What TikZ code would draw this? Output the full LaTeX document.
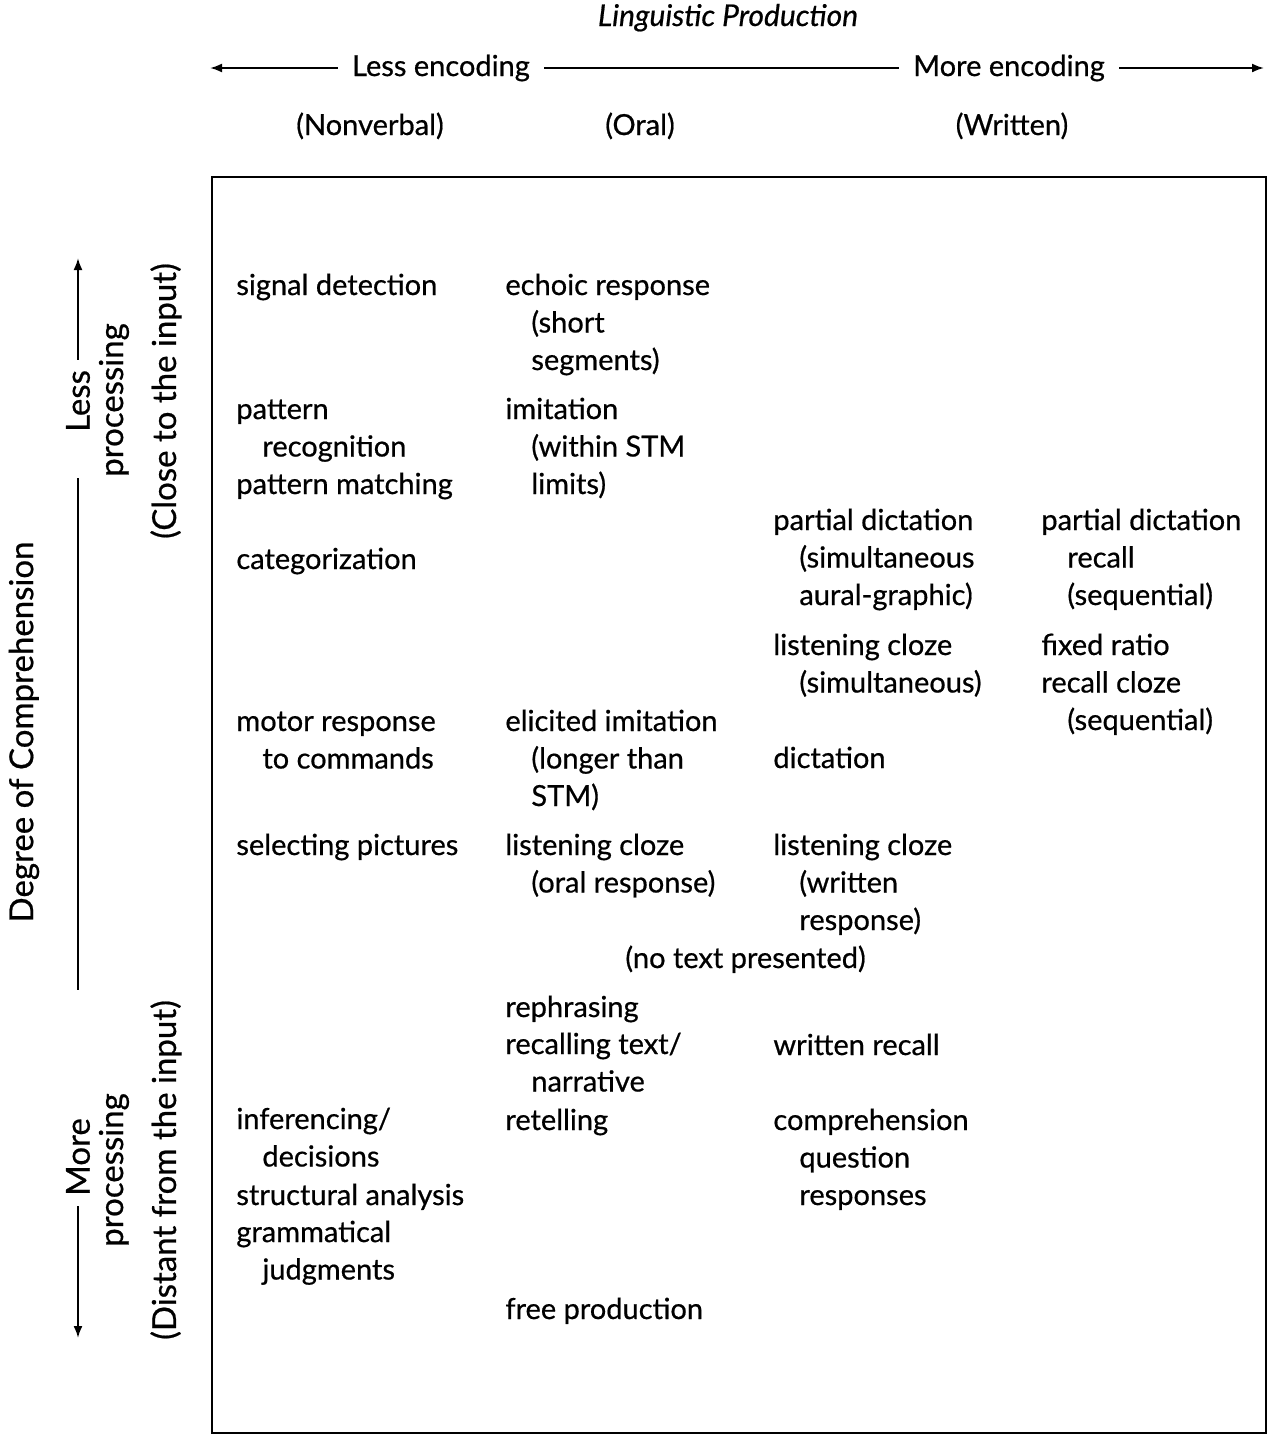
\documentclass[tikz,border=0pt]{standalone}
\usepackage{fontspec}
\setmainfont{Lato}[UprightFeatures={FakeBold=0.6}, ItalicFeatures={FakeBold=0.6}]
\usetikzlibrary{arrows.meta}
\newcommand{\indt}{\hspace*{13pt}}

\begin{document}
\begin{tikzpicture}[x=0.5pt, y=-0.5pt,
		font=\fontsize{14.5}{18.75}\selectfont,
		entry/.style={anchor=base west, align=left, inner sep=0pt},
		head/.style={anchor=base},
		side/.style={rotate=90, inner sep=5pt, font=\fontsize{16.5}{18.75}\selectfont},
		axis/.style={line width=1pt},
		tip/.style={-{Latex[length=6pt,width=4.5pt]}}
		]
	\useasboundingbox (0,0) rectangle (1274,1435);
	\draw[line width=1.4pt] (212,177) rectangle (1266,1433);

	% linguistic production axis
	\node[head, font=\fontsize{15}{18}\selectfont\itshape] (title) at (728,26) {Linguistic Production};
	\coordinate (lend) at (210,68);
	\coordinate (rend) at (1264,68);
	\node[inner sep=7pt] (lessenc) at (441,68) {Less encoding};
	\node[inner sep=7pt] (moreenc) at (1009,68) {More encoding};
	\draw[axis, tip] (lessenc.west) -- (lend);
	\draw[axis] (lessenc.east) -- (moreenc.west);
	\draw[axis, tip] (moreenc.east) -- (rend);
	\node[head] (nonverbal) at (370,135) {(Nonverbal)};
	\node[head] (oral) at (640,135) {(Oral)};
	\node[head] (written) at (1012,135) {(Written)};

	% degree of comprehension axis
	\node[side] (degree) at (24,732) {Degree of Comprehension};
	\node[side] (lessproc) at (78,401) {Less};
	\node[side] (procup) at (114,400) {processing};
	\node[side] (close) at (166,401) {(Close to the input)};
	\node[side] (moreproc) at (78,1157) {More};
	\node[side] (procdown) at (114,1170) {processing};
	\node[side] (distant) at (166,1170) {(Distant from the input)};
	\coordinate (uend) at (78,258);
	\coordinate (dend) at (78,1338);
	\coordinate (axtop) at (78,478);
	\coordinate (axbot) at (78,990);
	\draw[axis, tip] (lessproc.east) -- (uend);
	\draw[axis] (axtop) -- (axbot);
	\draw[axis, tip] (moreproc.west) -- (dend);

	% entries sit on the baseline of their last line
	% nonverbal
	\node[entry] (signal) at (236,295) {signal detection};
	\node[entry] (pattrec) at (236,456.5) {pattern\\\indt recognition};
	\node[entry] (pattmat) at (236,494) {pattern matching};
	\node[entry] (categ) at (236,569) {categorization};
	\node[entry] (motor) at (236,768.5) {motor response\\\indt to commands};
	\node[entry] (select) at (236,855) {selecting pictures};
	\node[entry] (infer) at (236,1166.5) {inferencing/\\\indt decisions};
	\node[entry] (struct) at (236,1205) {structural analysis};
	\node[entry] (gramm) at (236,1279.5) {grammatical\\\indt judgments};

	% oral
	\node[entry] (echoic) at (505,370) {echoic response\\\indt (short\\\indt segments)};
	\node[entry] (imit) at (505,494) {imitation\\\indt (within STM\\\indt limits)};
	\node[entry] (elicit) at (505,806) {elicited imitation\\\indt (longer than\\\indt STM)};
	\node[entry] (clozeoral) at (505,892.5) {listening cloze\\\indt (oral response)};
	\node[entry] (notext) at (625,968) {(no text presented)};
	\node[entry] (rephr) at (505,1017) {rephrasing};
	\node[entry] (recall) at (505,1091.5) {recalling text/\\\indt narrative};
	\node[entry] (retell) at (505,1130) {retelling};
	\node[entry] (free) at (505,1319) {free production};

	% written
	\node[entry] (pdict) at (773,605) {partial dictation\\\indt (simultaneous\\\indt aural-graphic)};
	\node[entry] (clozesim) at (773,692.5) {listening cloze\\\indt (simultaneous)};
	\node[entry] (dict) at (773,768) {dictation};
	\node[entry] (clozewr) at (773,930) {listening cloze\\\indt (written\\\indt response)};
	\node[entry] (wrecall) at (773,1055) {written recall};
	\node[entry] (compr) at (773,1205) {comprehension\\\indt question\\\indt responses};
	\node[entry] (pdictrec) at (1041,605) {partial dictation\\\indt recall\\\indt (sequential)};
	\node[entry] (fixed) at (1041,730) {fixed ratio\\recall cloze\\\indt (sequential)};
\end{tikzpicture}
\end{document}
